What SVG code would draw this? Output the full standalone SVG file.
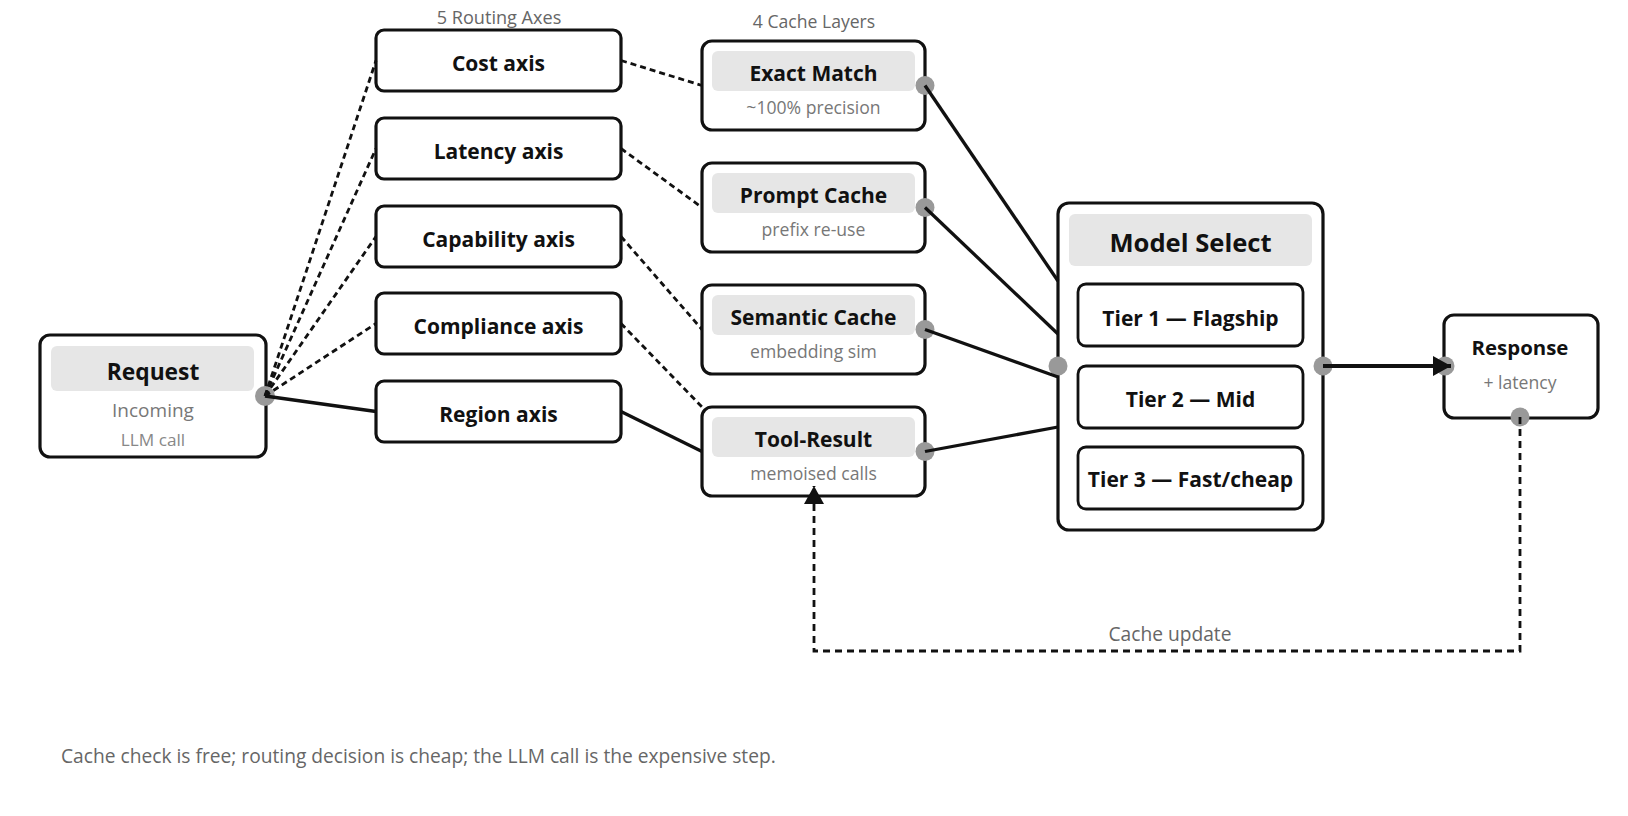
<svg xmlns="http://www.w3.org/2000/svg" width="1628" height="816" viewBox="0 0 1628 816">
<defs>
<style>
text{font-family:"Open Sans","Noto Sans","DejaVu Sans",sans-serif;text-anchor:middle}
.box{fill:#fff;stroke:#111;stroke-width:3.2}
.hdr{fill:#e6e6e6}
.tier{fill:#fff;stroke:#111;stroke-width:2.8}
.t{font-weight:700;fill:#111;font-size:21px}
.sub{fill:#777;font-size:17.6px}
.cap{fill:#666;font-size:17.6px}
.port{fill:#999}
.dash{fill:none;stroke:#111;stroke-width:2.8;stroke-dasharray:6 4}
.solid{fill:none;stroke:#111;stroke-width:3.3}
</style>
<marker id="ah" markerUnits="userSpaceOnUse" markerWidth="20" markerHeight="22" viewBox="0 0 20 22" refX="18" refY="10" orient="auto">
<path d="M0,0 L18,10 L0,20 z" fill="#111"/>
</marker>
</defs>
<rect width="1628" height="816" fill="#fff"/>

<text class="cap" x="499" y="24" style="font-size:18.1px">5 Routing Axes</text>
<text class="cap" x="814" y="28">4 Cache Layers</text>

<g id="request">
<rect class="box" x="40" y="335" width="226" height="122" rx="10"/>
<rect class="hdr" x="51" y="346" width="203" height="45" rx="6"/>
<text class="t" x="153" y="380" style="font-size:22.8px">Request</text>
<text class="sub" x="153" y="417" style="font-size:19px">Incoming</text>
<text class="sub" x="153" y="446" style="fill:#888;font-size:17.2px">LLM call</text>
<circle class="port" cx="265" cy="396" r="10"/>
</g>

<g id="cost-axis"><rect class="box" x="376" y="30" width="245" height="61" rx="8"/><text class="t" x="498.5" y="71">Cost axis</text></g>
<g id="latency-axis"><rect class="box" x="376" y="118" width="245" height="61" rx="8"/><text class="t" x="498.5" y="159">Latency axis</text></g>
<g id="capability-axis"><rect class="box" x="376" y="206" width="245" height="61" rx="8"/><text class="t" x="498.5" y="247">Capability axis</text></g>
<g id="compliance-axis"><rect class="box" x="376" y="293" width="245" height="61" rx="8"/><text class="t" x="498.5" y="334">Compliance axis</text></g>
<g id="region-axis"><rect class="box" x="376" y="381" width="245" height="61" rx="8"/><text class="t" x="498.5" y="422">Region axis</text></g>

<g id="exact-match">
<rect class="box" x="702" y="41" width="223" height="89" rx="10"/>
<rect class="hdr" x="712" y="51" width="203" height="40" rx="6"/>
<text class="t" x="813.5" y="81">Exact Match</text>
<text class="sub" x="813.5" y="114">~100% precision</text>
<circle class="port" cx="925" cy="85.5" r="9.5"/>
</g>
<g id="prompt-cache">
<rect class="box" x="702" y="163" width="223" height="89" rx="10"/>
<rect class="hdr" x="712" y="173" width="203" height="40" rx="6"/>
<text class="t" x="813.5" y="203">Prompt Cache</text>
<text class="sub" x="813.5" y="236">prefix re-use</text>
<circle class="port" cx="925" cy="207.5" r="9.5"/>
</g>
<g id="semantic-cache">
<rect class="box" x="702" y="285" width="223" height="89" rx="10"/>
<rect class="hdr" x="712" y="295" width="203" height="40" rx="6"/>
<text class="t" x="813.5" y="325">Semantic Cache</text>
<text class="sub" x="813.5" y="358">embedding sim</text>
<circle class="port" cx="925" cy="329.5" r="9.5"/>
</g>
<g id="tool-result">
<rect class="box" x="702" y="407" width="223" height="89" rx="10"/>
<rect class="hdr" x="712" y="417" width="203" height="40" rx="6"/>
<text class="t" x="813.5" y="447">Tool-Result</text>
<text class="sub" x="813.5" y="480">memoised calls</text>
<circle class="port" cx="925" cy="451.5" r="9.5"/>
</g>

<g id="model-select">
<rect class="box" x="1058" y="203" width="265" height="327" rx="11"/>
<rect class="hdr" x="1069" y="214" width="243" height="52" rx="6"/>
<text class="t" x="1190.5" y="252" style="font-size:25.6px">Model Select</text>
<g id="tier-1"><rect class="tier" x="1078" y="284" width="225" height="62" rx="8"/><text class="t" x="1190.5" y="326">Tier 1 — Flagship</text></g>
<g id="tier-2"><rect class="tier" x="1078" y="366" width="225" height="62" rx="8"/><text class="t" x="1190.5" y="407">Tier 2 — Mid</text></g>
<g id="tier-3"><rect class="tier" x="1078" y="447" width="225" height="62" rx="8"/><text class="t" x="1190.5" y="487">Tier 3 — Fast/cheap</text></g>
<circle class="port" cx="1058" cy="366" r="9.5"/>
<circle class="port" cx="1323" cy="366" r="9.5"/>
</g>

<g id="response">
<rect class="box" x="1444" y="315" width="154" height="103" rx="10"/>
<text class="t" x="1520" y="355" style="font-size:20.4px">Response</text>
<text class="sub" x="1520" y="389">+ latency</text>
<circle class="port" cx="1445" cy="366" r="9.5"/>
<circle class="port" cx="1520" cy="417" r="9.5"/>
</g>

<g id="connectors">
<path class="dash" d="M265,396 L376,60.5"/>
<path class="dash" d="M265,396 L376,148.5"/>
<path class="dash" d="M265,396 L376,236.5"/>
<path class="dash" d="M265,396 L376,323.5"/>
<path class="solid" d="M265,396 L376,411.5"/>
<path class="dash" d="M621,60.5 L702,85.5"/>
<path class="dash" d="M621,148.5 L702,207.5"/>
<path class="dash" d="M621,236.5 L702,329.5"/>
<path class="dash" d="M621,323.5 L703,408"/>
<path class="solid" d="M621,411.5 L702,451.5"/>
<path class="solid" d="M925,85.5 L1058,281"/>
<path class="solid" d="M925,207.5 L1058,334"/>
<path class="solid" d="M925,329.5 L1058,377"/>
<path class="solid" d="M925,451.5 L1058,427"/>
<path class="solid" d="M1323,366 L1451,366" style="stroke-width:4" marker-end="url(#ah)"/>
<path class="dash" d="M1520,417 V651 H814 V486" style="stroke-dasharray:7 5" marker-end="url(#ah)"/>
<text class="cap" x="1170" y="641" style="font-size:19.2px">Cache update</text>
</g>

<text x="61" y="763" style="text-anchor:start;fill:#666;font-size:19.2px">Cache check is free; routing decision is cheap; the LLM call is the expensive step.</text>
</svg>
